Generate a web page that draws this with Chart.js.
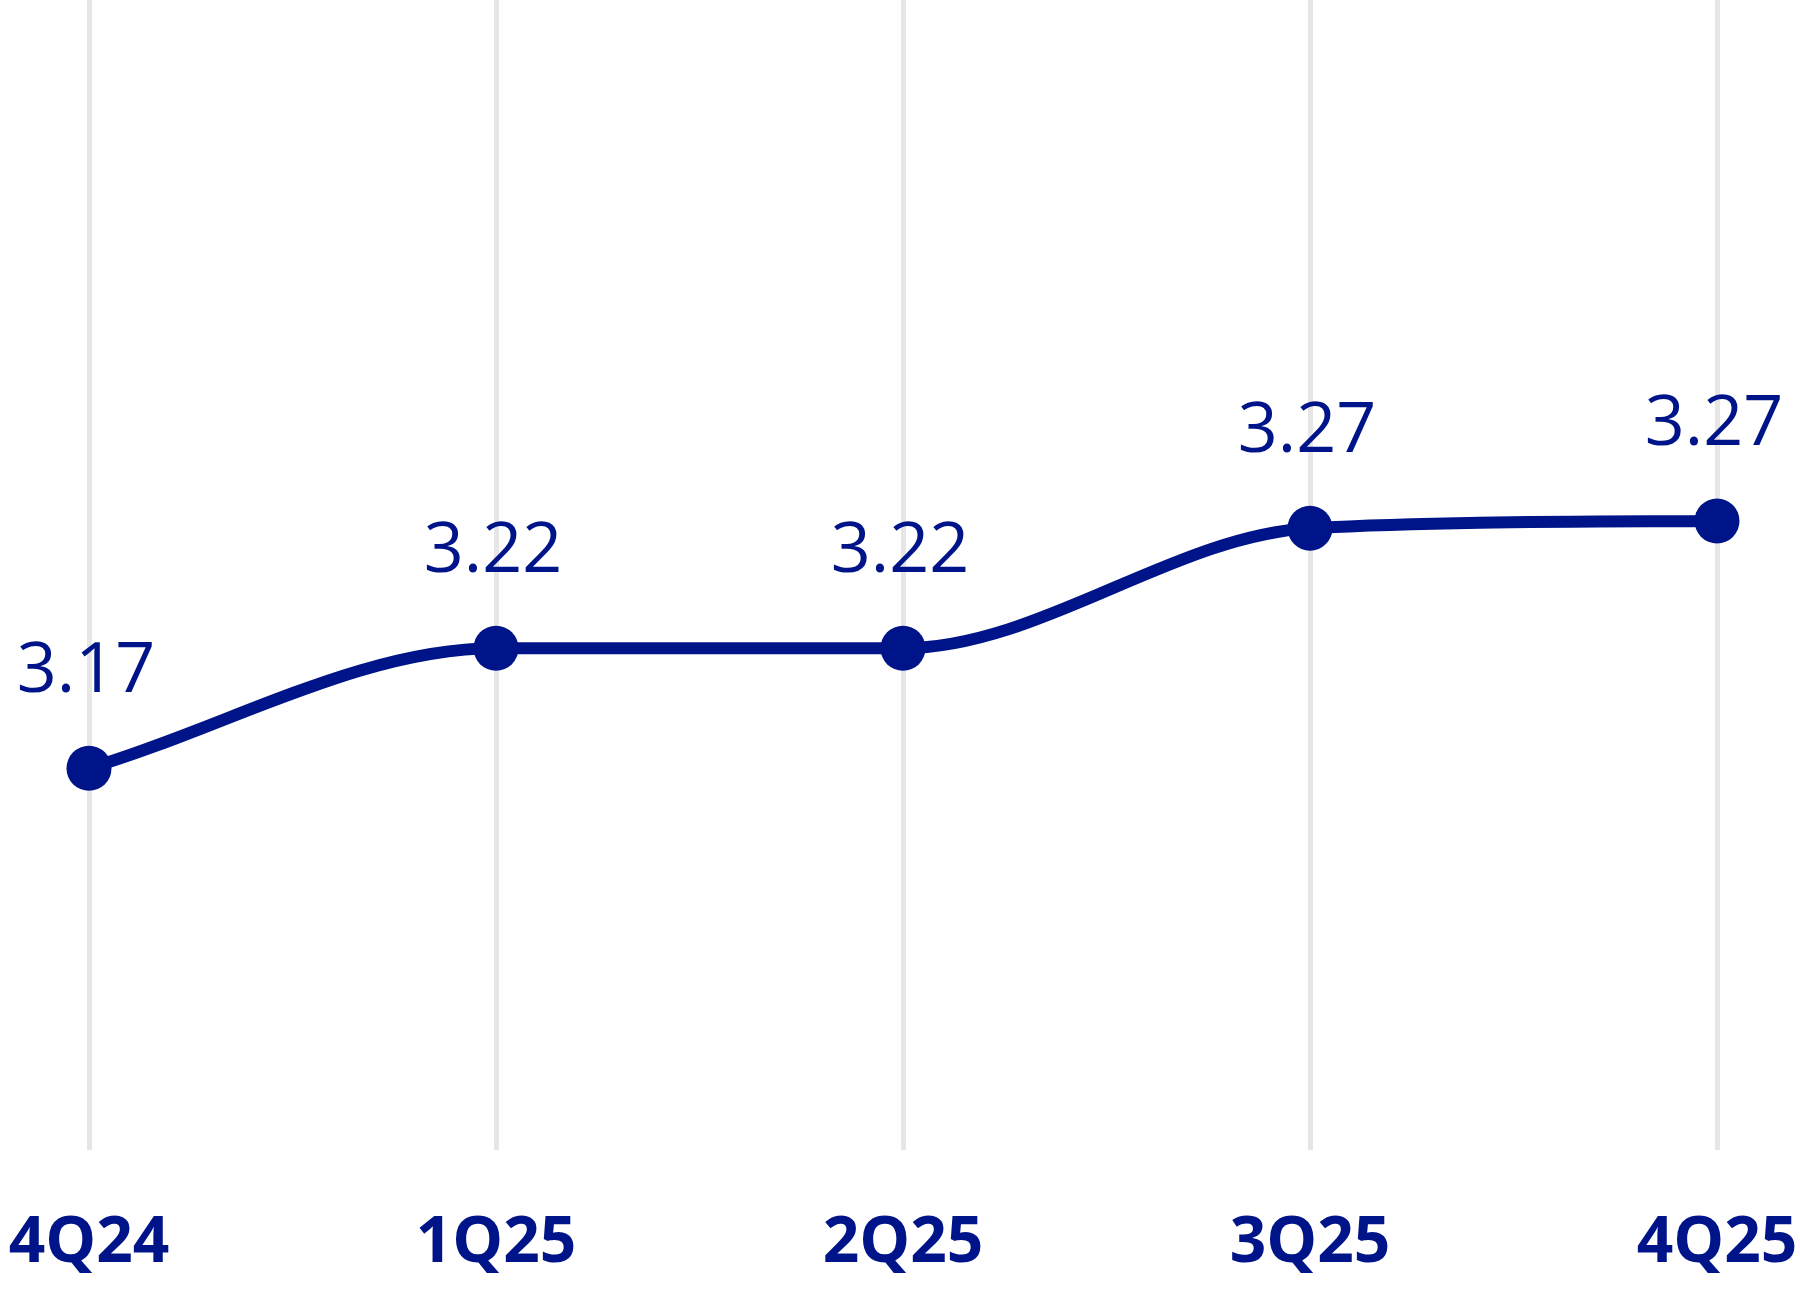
<!DOCTYPE html>
<html>
<head>
<meta charset="utf-8">
<script src="https://cdn.jsdelivr.net/npm/chart.js@4"></script>
<style>
    html, body { margin: 0; padding: 0; background: #ffffff; }
    .chart-box { width: 1800px; height: 1302px; position: relative; }
</style>
</head>
<body>
<div class="chart-box"><canvas id="quarterChart"></canvas></div>
<script>
// Chart data
const quarters = ['4Q24', '1Q25', '2Q25', '3Q25', '4Q25'];
const values = [3.17, 3.22, 3.22, 3.27, 3.273];

const navy = '#001489';

// Draw the value above each point
const valueLabels = {
    id: 'valueLabels',
    afterDatasetsDraw(chart) {
        const ctx = chart.ctx;
        const meta = chart.getDatasetMeta(0);
        ctx.save();
        ctx.font = '500 70px "Open Sans"';
        ctx.fillStyle = navy;
        ctx.textAlign = 'center';
        ctx.textBaseline = 'alphabetic';
        meta.data.forEach((point, i) => {
            ctx.fillText(values[i].toFixed(2), point.x - 3, point.y - 76);
        });
        ctx.restore();
    }
};

document.addEventListener('DOMContentLoaded', function () {
    const ctx = document.getElementById('quarterChart');
    new Chart(ctx, {
        type: 'line',
        data: {
            labels: quarters,
            datasets: [{
                data: values,
                borderColor: navy,
                backgroundColor: navy,
                borderWidth: 12,
                cubicInterpolationMode: 'monotone',
                pointRadius: 22.5,
                pointHoverRadius: 22.5,
                pointBackgroundColor: navy,
                pointBorderWidth: 0,
                clip: false
            }]
        },
        options: {
            responsive: true,
            maintainAspectRatio: false,
            animation: false,
            events: [],
            layout: {
                autoPadding: false,
                padding: { left: 89, right: 83, top: 0, bottom: 0 }
            },
            plugins: {
                legend: { display: false },
                tooltip: { enabled: false }
            },
            scales: {
                x: {
                    offset: false,
                    border: { display: false },
                    grid: {
                        color: '#e6e6e6',
                        lineWidth: 5,
                        drawTicks: false
                    },
                    ticks: {
                        color: navy,
                        padding: 55,
                        maxRotation: 0,
                        font: { family: '"Open Sans"', size: 64, weight: '700' }
                    },
                    afterFit(scale) {
                        // keep plot area at 0..1150 and let labels hang outside
                        scale.height = 152;
                        scale.paddingLeft = 0;
                        scale.paddingRight = 0;
                    }
                },
                y: {
                    display: false,
                    min: 3.011,
                    max: 3.49
                }
            }
        },
        plugins: [valueLabels]
    });
});
</script>
</body>
</html>
